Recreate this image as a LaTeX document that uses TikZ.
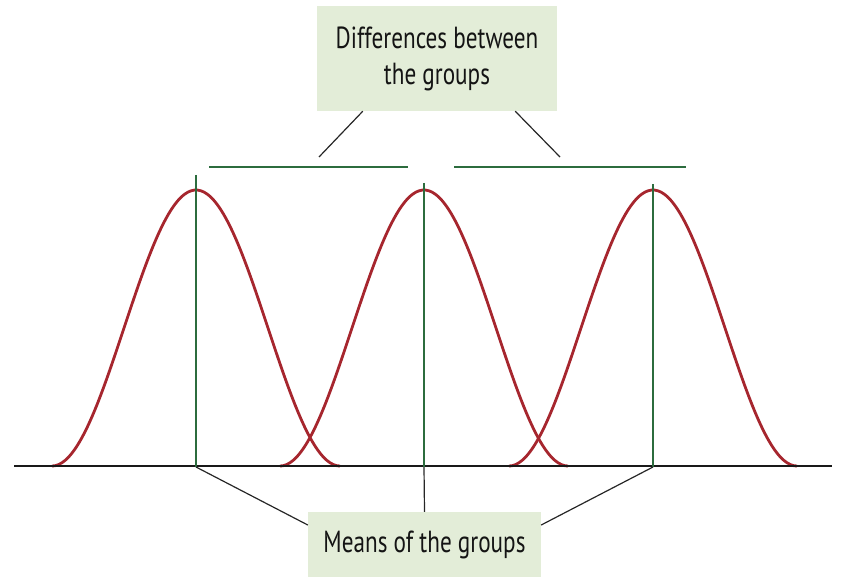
\documentclass[tikz,border=0pt]{standalone}
\usepackage{fontspec}
\setmainfont[FakeStretch=0.76]{PT Sans}
\definecolor{boxfill}{RGB}{227,237,216}
\definecolor{meangreen}{RGB}{44,108,62}
\definecolor{curvered}{RGB}{166,38,46}
\begin{document}
\begin{tikzpicture}[x=1pt,y=-1pt,
  curve/.style={draw=curvered,line width=2.8pt},
  meanline/.style={draw=meangreen,line width=2.8pt},
  diffline/.style={draw=meangreen,line width=2.8pt},
  axisline/.style={draw=black!90,line width=2.4pt},
  leader/.style={draw=black!85,line width=1.2pt},
  labelbox/.style={fill=boxfill,draw=none,inner sep=0pt,align=center,font=\fontsize{30.5}{36}\selectfont,text=black!92}]
\useasboundingbox (0,0) rectangle (845,577);
% curves
\foreach \c in {196,424,653}{
  \draw[curve] plot[domain=-144:144,samples=90,smooth] ({\c+\x},{466-138*(1+cos(\x*1.25))});
}
% axis
\coordinate (axL) at (14,466);
\coordinate (axR) at (832,466);
\draw[axisline] (axL) -- (axR);
% mean lines
\coordinate (m1t) at (196,175); \coordinate (m1b) at (196,467);
\coordinate (m2t) at (424,183); \coordinate (m2b) at (424,467);
\coordinate (m3t) at (653,184); \coordinate (m3b) at (653,467);
\draw[meanline] (m1t) -- (m1b);
\draw[meanline] (m2t) -- (m2b);
\draw[meanline] (m3t) -- (m3b);
% difference bars
\coordinate (d1a) at (209,167); \coordinate (d1b) at (408,167);
\coordinate (d2a) at (454,167); \coordinate (d2b) at (686,167);
\draw[diffline] (d1a) -- (d1b);
\draw[diffline] (d2a) -- (d2b);
% top box
\node[labelbox,minimum width=240pt,minimum height=105pt] (diff) at (437,58.5) {Differences between\\[0pt]the groups};
\coordinate (dl) at (319,157);
\coordinate (dr) at (560,157);
\draw[leader] (diff.south west) ++(46,0) -- (dl);
\draw[leader] (diff.south east) ++(-42,0) -- (dr);
% bottom box
\node[labelbox,minimum width=233pt,minimum height=65pt] (means) at (424.5,544.5) {Means of the groups};
\draw[leader] (m1b) -- (means.west |- 0,525);
\draw[leader] (m2b) -- (means.north);
\draw[leader] (m3b) -- (means.east |- 0,525);
\end{tikzpicture}
\end{document}
